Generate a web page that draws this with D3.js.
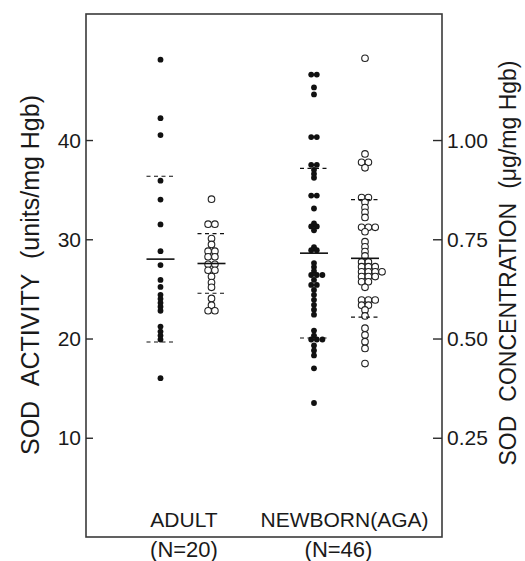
<!DOCTYPE html>
<html>
<head>
<meta charset="utf-8">
<script src="https://cdn.jsdelivr.net/npm/d3@7"></script>
<style>
  html, body { margin: 0; padding: 0; background: #fff; }
  svg { display: block; }
  text { font-family: "Liberation Sans", Arial, Helvetica, sans-serif; fill: #1a1a1a; }
</style>
</head>
<body>
<svg id="chart" width="525" height="561"></svg>
<script>
// ---- data ----
const groups = ["ADULT", "NEWBORN(AGA)"];
const groupN = ["(N=20)", "(N=46)"];
const leftTicks = [10, 20, 30, 40];
const rightTicks = [0.25, 0.50, 0.75, 1.00];
const rightTickLabels = ["0.25", "0.50", "0.75", "1.00"];
const leftTitleWords = ["SOD", "ACTIVITY", "(units/mg Hgb)"];
const rightTitleWords = ["SOD", "CONCENTRATION", "(\u03BCg/mg Hgb)"];

// SOD activity (units/mg Hgb) – filled dots, left axis
const adultActivity = [48.1, 42.2, 40.5, 35.9, 34.0, 31.5, 28.8, 27.4, 25.9, 25.2,
  24.4, 24.0, 23.6, 23.2, 21.2, 20.7, 20.3, 19.9, 16.0, 22.8];
const newbornActivity = [46.6, 46.6, 45.3, 44.6, 40.3, 40.3, 37.5, 37.5, 37.0, 36.6,
  36.2, 34.4, 34.4, 33.1, 31.6, 31.3, 31.3, 30.9, 29.2, 28.9, 28.9, 27.6, 27.2, 26.8,
  26.4, 26.4, 26.4, 25.9, 25.4, 25.4, 24.9, 24.4, 23.9, 23.4, 22.9, 22.4, 20.8, 20.3,
  19.9, 19.9, 19.9, 19.3, 18.8, 18.3, 17.0, 13.5];

// SOD concentration (ug/mg Hgb) – open circles, right axis
const adultConc = [0.851, 0.788, 0.788, 0.752, 0.737, 0.720, 0.720, 0.706, 0.706,
  0.687, 0.687, 0.672, 0.672, 0.656, 0.641, 0.629, 0.601, 0.584, 0.570, 0.570];
const newbornConc = [1.206, 0.965, 0.944, 0.944, 0.930, 0.855, 0.855, 0.843, 0.830,
  0.818, 0.805, 0.780, 0.780, 0.780, 0.769, 0.744, 0.731, 0.719, 0.708, 0.693, 0.693,
  0.681, 0.681, 0.681, 0.668, 0.668, 0.668, 0.668, 0.656, 0.656, 0.656, 0.643, 0.643,
  0.629, 0.597, 0.597, 0.597, 0.584, 0.584, 0.572, 0.557, 0.526, 0.509, 0.492, 0.475, 0.437];

// mean and SD lines
const activityMean = [28.0, 28.6];
const activitySD = [8.35, 8.55];
const concMean = [0.689, 0.702];
const concSD = [0.075, 0.148];

// ---- layout ----
const frame = { left: 86, right: 442, top: 14, bottom: 537 };
const svg = d3.select("#chart");

const yL = d3.scaleLinear().domain([0, 52.7]).range([frame.bottom, frame.top]);
const yR = d3.scaleLinear().domain([0, 52.7 / 40]).range([frame.bottom, frame.top]);
const xG = d3.scalePoint().domain(groups).range([186, 339.5]);
const xSub = d3.scalePoint().domain(["activity", "conc"]).range([-25.5, 25.5]);

// frame
svg.append("rect")
  .attr("x", frame.left).attr("y", frame.top)
  .attr("width", frame.right - frame.left).attr("height", frame.bottom - frame.top)
  .attr("fill", "none").attr("stroke", "#3a3a3a").attr("stroke-width", 1.6);

// left axis (ticks inward)
const leftAxis = d3.axisRight(yL).tickValues(leftTicks).tickSize(7).tickFormat("");
const gL = svg.append("g").attr("transform", `translate(${frame.left},0)`).call(leftAxis);
gL.select(".domain").remove();
gL.selectAll(".tick line").attr("stroke", "#2a2a2a").attr("stroke-width", 1.4);
svg.append("g").selectAll("text").data(leftTicks).join("text")
  .attr("x", frame.left - 5).attr("y", d => yL(d)).attr("dy", "0.36em")
  .attr("text-anchor", "end").attr("font-size", 21).text(d => d);

// right axis (ticks inward)
const rightAxis = d3.axisLeft(yR).tickValues(rightTicks).tickSize(9).tickFormat("");
const gR = svg.append("g").attr("transform", `translate(${frame.right},0)`).call(rightAxis);
gR.select(".domain").remove();
gR.selectAll(".tick line").attr("stroke", "#2a2a2a").attr("stroke-width", 1.4);
svg.append("g").selectAll("text").data(rightTicks).join("text")
  .attr("x", frame.right + 5).attr("y", d => yR(d)).attr("dy", "0.36em")
  .attr("text-anchor", "start").attr("font-size", 21)
  .text((d, i) => rightTickLabels[i]);

// axis titles: words spread to span a given length, centred at (cx, cy)
function spreadTitle(words, cx, cy, fontSize, span) {
  const g = svg.append("g").attr("transform", `translate(${cx},${cy}) rotate(-90)`);
  const widths = words.map(w => {
    const t = g.append("text").attr("font-size", fontSize).text(w);
    const wd = t.node().getComputedTextLength();
    t.remove();
    return wd;
  });
  const total = d3.sum(widths);
  const gap = Math.max(6, (span - total) / (words.length - 1));
  let pos = -(total + gap * (words.length - 1)) / 2;
  words.forEach((w, i) => {
    g.append("text").attr("x", pos).attr("y", 0).attr("dy", "0.36em")
      .attr("font-size", fontSize).text(w);
    pos += widths[i] + gap;
  });
}
spreadTitle(leftTitleWords, 30, 275, 25, 360);
spreadTitle(rightTitleWords, 508, 263, 23, 405);

// group labels
svg.append("g").selectAll("text").data(groups).join("text")
  .attr("x", (d, i) => xG(d) + (i === 1 ? 5 : -2)).attr("y", 527)
  .attr("text-anchor", "middle").attr("font-size", 21).text(d => d);
svg.append("g").selectAll("text").data(groups).join("text")
  .attr("x", (d, i) => xG(d) + (i === 1 ? -1 : -2)).attr("y", 557)
  .attr("text-anchor", "middle").attr("font-size", 22).text((d, i) => groupN[i]);

// dot placement: tied values side by side
function placed(values, group, kind, yScale, spacing) {
  const counts = d3.rollup(values, v => v.length, v => v);
  const seen = new Map();
  const cx = xG(group) + xSub(kind);
  return values.map(v => {
    const k = counts.get(v);
    const j = seen.get(v) || 0;
    seen.set(v, j + 1);
    const off = k > 1 ? j * spacing - spacing / 2 : 0;
    return { x: cx + off, y: yScale(v) };
  });
}

const filled = [
  ...placed(adultActivity, groups[0], "activity", yL, 5.6),
  ...placed(newbornActivity, groups[1], "activity", yL, 5.6)
];
const open = [
  ...placed(adultConc, groups[0], "conc", yR, 6.8),
  ...placed(newbornConc, groups[1], "conc", yR, 6.8)
];

svg.append("g").selectAll("circle").data(filled).join("circle")
  .attr("cx", d => d.x).attr("cy", d => d.y).attr("r", 2.9)
  .attr("fill", "#111");
svg.append("g").selectAll("circle").data(open).join("circle")
  .attr("cx", d => d.x).attr("cy", d => d.y).attr("r", 3.3)
  .attr("fill", "#fff").attr("stroke", "#222").attr("stroke-width", 1.1);

// mean (solid) and mean±SD (dashed) lines
const statLines = [];
groups.forEach((g, i) => {
  statLines.push({ g, kind: "activity", y: yL(activityMean[i]), dash: false, half: 14 });
  statLines.push({ g, kind: "activity", y: yL(activityMean[i] + activitySD[i]), dash: true, half: 14 });
  statLines.push({ g, kind: "activity", y: yL(activityMean[i] - activitySD[i]), dash: true, half: 14 });
  statLines.push({ g, kind: "conc", y: yR(concMean[i]), dash: false, half: 14 });
  statLines.push({ g, kind: "conc", y: yR(concMean[i] + concSD[i]), dash: true, half: 14 });
  statLines.push({ g, kind: "conc", y: yR(concMean[i] - concSD[i]), dash: true, half: 14 });
});
svg.append("g").selectAll("line").data(statLines).join("line")
  .attr("x1", d => xG(d.g) + xSub(d.kind) - d.half)
  .attr("x2", d => xG(d.g) + xSub(d.kind) + d.half)
  .attr("y1", d => d.y).attr("y2", d => d.y)
  .attr("stroke", "#111")
  .attr("stroke-width", d => d.dash ? 1.2 : 1.6)
  .attr("stroke-dasharray", d => d.dash ? "4,3.5" : null);
</script>
</body>
</html>
